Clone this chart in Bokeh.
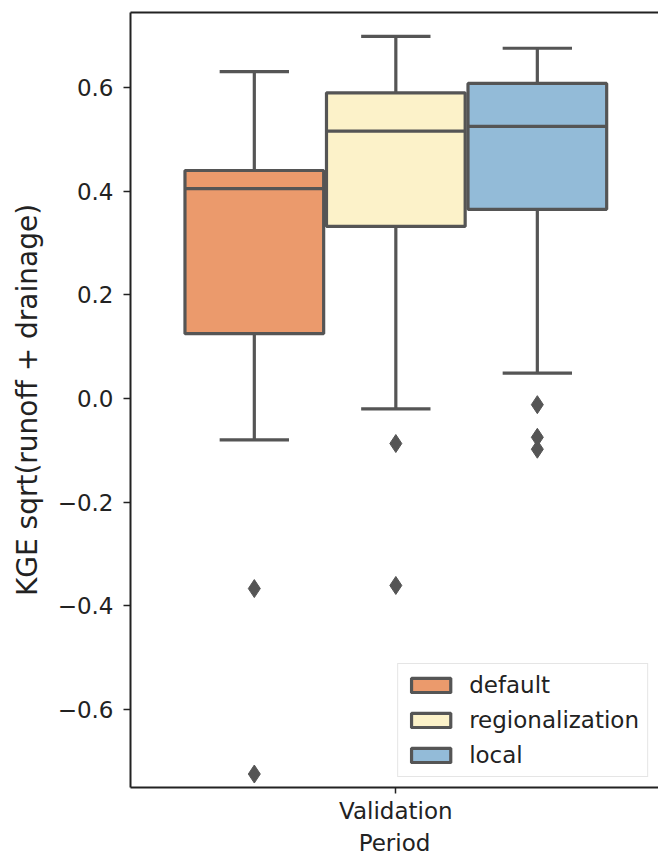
from bokeh.plotting import figure
from bokeh.models import (ColumnDataSource, FixedTicker, LinearAxis,
                          CustomJSTickFormatter)
from bokeh.embed import file_html
from bokeh.resources import INLINE

# KGE sqrt(runoff + drainage) summary statistics, validation period
groups = ["default", "regionalization", "local"]
fill_colors = ["#eb9a6c", "#fcf2c9", "#93bbd8"]
upper_whisker = [0.631, 0.699, 0.676]
q3 = [0.440, 0.590, 0.608]
median = [0.405, 0.516, 0.525]
q1 = [0.125, 0.332, 0.365]
lower_whisker = [-0.080, -0.020, 0.049]
outliers = {
    "default": [-0.367, -0.725],
    "regionalization": [-0.087, -0.361],
    "local": [-0.012, -0.075, -0.098],
}
period_labels = ["Validation"]

LINE = "#555555"
FONT = "DejaVu Sans"

n = len(groups)
group_width = 0.8
slot = group_width / n
box_w = slot * 0.98
cap_w = box_w * 0.5
centers = [-group_width / 2 + slot * (i + 0.5) for i in range(n)]

p = figure(width=658, height=858,
           x_range=(-0.5, 0.495), y_range=(-0.751, 0.745),
           output_backend="svg", toolbar_location=None,
           min_border_left=130, min_border_right=0,
           min_border_top=12, min_border_bottom=71)
p.outline_line_color = None
p.xgrid.visible = False
p.ygrid.visible = False
p.background_fill_color = "white"
p.border_fill_color = "white"

# whiskers, caps, boxes, medians
for i, g in enumerate(groups):
    c = centers[i]
    src = ColumnDataSource(dict(
        x=[c], left=[c - box_w / 2], right=[c + box_w / 2],
        cl=[c - cap_w / 2], cr=[c + cap_w / 2],
        lo=[lower_whisker[i]], hi=[upper_whisker[i]],
        q1=[q1[i]], q3=[q3[i]], med=[median[i]],
    ))
    p.segment(x0="x", y0="q3", x1="x", y1="hi", source=src,
              line_color=LINE, line_width=3.2)
    p.segment(x0="x", y0="lo", x1="x", y1="q1", source=src,
              line_color=LINE, line_width=3.2)
    p.segment(x0="cl", y0="hi", x1="cr", y1="hi", source=src,
              line_color=LINE, line_width=3.2)
    p.segment(x0="cl", y0="lo", x1="cr", y1="lo", source=src,
              line_color=LINE, line_width=3.2)
    p.quad(left="left", right="right", bottom="q1", top="q3", source=src,
           fill_color=fill_colors[i], line_color=LINE, line_width=3.2,
           legend_label=g)
    p.segment(x0="left", y0="med", x1="right", y1="med", source=src,
              line_color=LINE, line_width=3.2)
    fl = outliers[g]
    p.scatter(x=[c] * len(fl), y=fl, marker="diamond", size=18,
              fill_color=LINE, line_color=LINE, line_width=1)

# axes
minus_fmt = CustomJSTickFormatter(
    code="return tick.toFixed(1).replace('-', '\u2212');")

yax = p.yaxis[0]
yax.ticker = FixedTicker(ticks=[-0.6, -0.4, -0.2, 0.0, 0.2, 0.4, 0.6])
yax.formatter = minus_fmt
yax.axis_label = "KGE sqrt(runoff + drainage)"
yax.axis_label_text_font = FONT
yax.axis_label_text_font_size = "28px"
yax.axis_label_text_font_style = "normal"
yax.axis_label_text_color = "#222222"
yax.axis_label_standoff = 11
yax.major_label_text_font = FONT
yax.major_label_text_font_size = "23px"
yax.major_label_text_color = "#222222"
yax.major_label_standoff = 10
yax.major_tick_out = 7
yax.major_tick_in = 0
yax.minor_tick_out = 0
yax.minor_tick_in = 0
yax.axis_line_width = 2
yax.axis_line_color = "#222222"
yax.major_tick_line_width = 1.5
yax.major_tick_line_color = "#222222"

xax = p.xaxis[0]
xax.ticker = FixedTicker(ticks=[0])
xax.major_label_overrides = {0: period_labels[0]}
xax.axis_label = "Period"
xax.axis_label_text_font = FONT
xax.axis_label_text_font_size = "23px"
xax.axis_label_text_font_style = "normal"
xax.axis_label_text_color = "#222222"
xax.axis_label_standoff = 3
xax.major_label_text_font = FONT
xax.major_label_text_font_size = "23px"
xax.major_label_text_color = "#222222"
xax.major_label_standoff = 4
xax.major_tick_out = 6
xax.major_tick_in = 0
xax.minor_tick_out = 0
xax.minor_tick_in = 0
xax.axis_line_width = 2
xax.axis_line_color = "#222222"
xax.major_tick_line_width = 1.5
xax.major_tick_line_color = "#222222"

# top spine
top = LinearAxis(ticker=FixedTicker(ticks=[]), major_tick_out=0,
                 major_tick_in=0, minor_tick_out=0, minor_tick_in=0,
                 major_label_text_font_size="0px", major_label_standoff=0,
                 axis_line_width=2, axis_line_color="#222222")
p.add_layout(top, "above")

# legend
lg = p.legend[0]
lg.location = "bottom_right"
lg.margin = 10
lg.padding = 8
lg.spacing = 9
lg.glyph_width = 49
lg.glyph_height = 18
lg.label_standoff = 14
lg.label_text_font = FONT
lg.label_text_font_size = "23px"
lg.label_text_color = "#222222"
lg.border_line_color = "#cccccc"
lg.border_line_width = 1.5
lg.background_fill_alpha = 0.8

open("out.html", "w").write(file_html(p, INLINE))
